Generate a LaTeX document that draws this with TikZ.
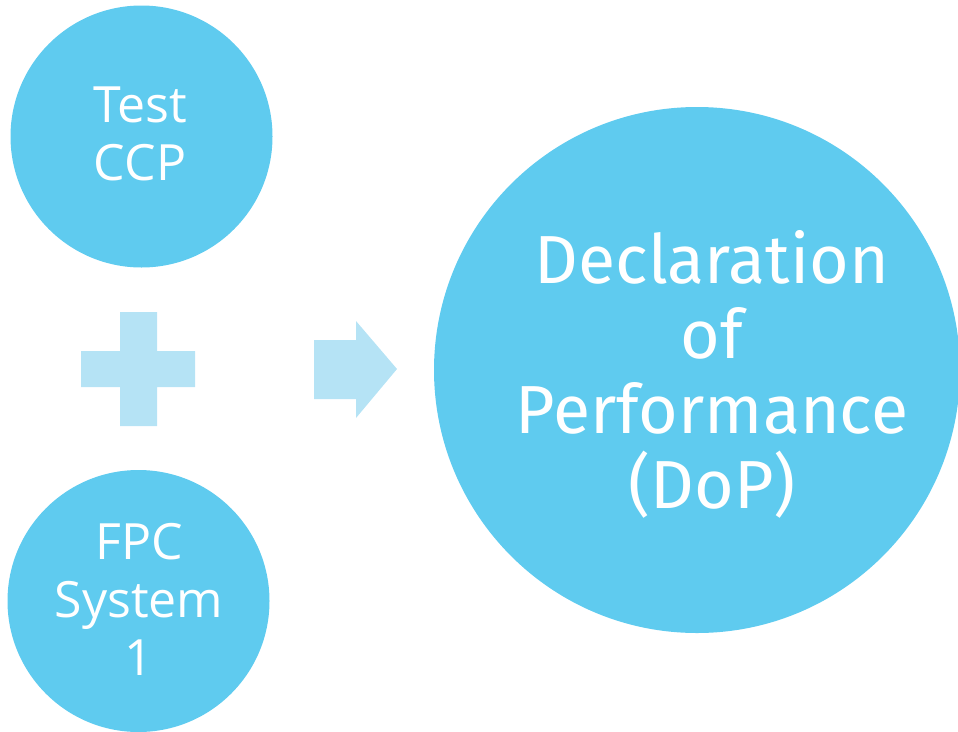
\documentclass[tikz,border=0pt]{standalone}
\usepackage{fontspec}
\setmainfont{Open Sans}
\newfontfamily\bigfont{Fira Sans}
\definecolor{circblue}{HTML}{5FCBEF}
\definecolor{paleblue}{HTML}{B5E3F5}
\begin{document}
\begin{tikzpicture}[x=1pt,y=-1pt,
  circ/.style={circle,fill=circblue,draw=none,inner sep=0pt},
  smalltxt/.style={text=white,align=center,inner sep=0pt,font=\fontsize{50}{58}\selectfont},
  bigtxt/.style={text=white,align=center,inner sep=0pt,font=\bigfont\fontsize{68}{75}\selectfont},
  pale/.style={fill=paleblue,draw=none}]
\useasboundingbox (0,0) rectangle (958,731);
\begin{scope}
\clip (0,0) rectangle (958,731);
\node[circ,minimum size=262pt] (c1) at (141.5,136.5) {};
\node[circ,minimum size=262pt] (c2) at (138.5,601) {};
\node[circ,minimum size=526pt] (c3) at (697,370) {};
\end{scope}
\node[smalltxt] (t1) at (140,134) {Test\\CCP};
\node[smalltxt] (t2) at (139,599) {FPC\\System\\1};
\node[bigtxt] (t3) at (712,374) {Declaration\\of\\Performance\\(DoP)};
% plus
\path[pale] (120,312) -- (157,312) -- (157,351) -- (195,351) -- (195,387) -- (157,387) -- (157,426) -- (120,426) -- (120,387) -- (81,387) -- (81,351) -- (120,351) -- cycle;
% arrow
\path[pale] (314,340) -- (356,340) -- (356,321) -- (397,369) -- (356,418) -- (356,399) -- (314,399) -- cycle;
\end{tikzpicture}
\end{document}
